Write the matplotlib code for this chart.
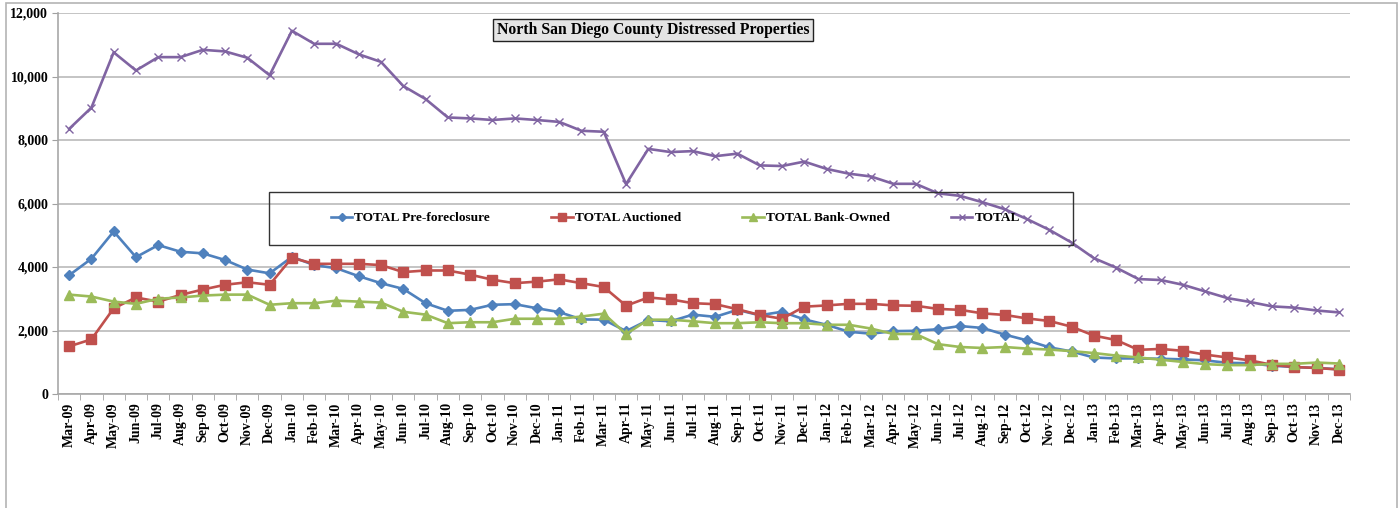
import matplotlib
matplotlib.use("Agg")
import matplotlib.pyplot as plt
from matplotlib.patches import Rectangle
from matplotlib.ticker import FuncFormatter, MultipleLocator
import pandas as pd

plt.rcParams["font.family"] = ["Liberation Serif", "DejaVu Serif"]
plt.rcParams["font.weight"] = "bold"

months = pd.date_range("2009-03-01", "2013-12-01", freq="MS").strftime("%b-%y").tolist()

pre_foreclosure = [
    3740, 4260, 5120, 4310, 4690, 4480, 4430, 4220, 3920, 3800,
    4320, 4060, 3960, 3710, 3490, 3310, 2860, 2620, 2650, 2810,
    2830, 2700, 2580, 2350, 2340, 1980, 2330, 2290, 2500, 2430,
    2650, 2480, 2590, 2350, 2180, 1960, 1900, 1980, 1990, 2040,
    2140, 2080, 1870, 1690, 1470, 1340, 1150, 1120, 1120, 1110,
    1090, 1060, 980, 970, 890, 850, 820, 780,
]
auctioned = [
    1500, 1720, 2700, 3040, 2910, 3120, 3290, 3440, 3520, 3440,
    4290, 4100, 4100, 4100, 4060, 3840, 3890, 3890, 3760, 3600,
    3490, 3540, 3610, 3490, 3370, 2780, 3040, 2980, 2860, 2830,
    2670, 2490, 2370, 2750, 2790, 2840, 2840, 2790, 2780, 2680,
    2650, 2540, 2490, 2380, 2300, 2120, 1840, 1700, 1390, 1420,
    1360, 1240, 1150, 1060, 920, 850, 820, 770,
]
bank_owned = [
    3130, 3070, 2910, 2840, 3000, 3040, 3100, 3130, 3130, 2810,
    2860, 2860, 2940, 2910, 2880, 2590, 2500, 2230, 2260, 2260,
    2370, 2370, 2370, 2440, 2530, 1890, 2340, 2340, 2290, 2230,
    2230, 2260, 2230, 2230, 2180, 2180, 2060, 1890, 1890, 1570,
    1480, 1450, 1480, 1430, 1400, 1350, 1290, 1210, 1150, 1080,
    1010, 940, 910, 910, 950, 950, 990, 960,
]
total = [
    8350, 9020, 10760, 10190, 10610, 10610, 10840, 10790, 10590, 10040,
    11440, 11030, 11030, 10700, 10460, 9700, 9290, 8710, 8680, 8630,
    8680, 8630, 8570, 8290, 8260, 6610, 7720, 7620, 7650, 7490,
    7570, 7200, 7180, 7320, 7090, 6940, 6850, 6620, 6620, 6320,
    6240, 6040, 5820, 5510, 5170, 4770, 4280, 3980, 3620, 3590,
    3440, 3230, 3020, 2900, 2760, 2720, 2630, 2570,
]

W, H = 1400, 508
fig = plt.figure(figsize=(W / 100, H / 100), dpi=100)
ax = fig.add_axes([58 / W, 1 - 394 / H, (1350 - 58) / W, (394 - 13) / H])

# outer chart border
fig.patches.append(Rectangle((6 / W, -0.1), (1397 - 6) / W, 1.1 - 3 / H,
                             transform=fig.transFigure, fill=False,
                             edgecolor="#b4b4b4", lw=1.2))

x = range(len(months))
series = [
    ("TOTAL Pre-foreclosure", pre_foreclosure, "#4F81BD", "D", 5),
    ("TOTAL Auctioned", auctioned, "#C0504D", "s", 7),
    ("TOTAL Bank-Owned", bank_owned, "#9BBB59", "^", 7),
    ("TOTAL", total, "#8064A2", "x", 6),
]
for name, vals, col, mk, ms in series:
    ax.plot(x, vals, color=col, lw=1.9, marker=mk, markersize=ms,
            markeredgecolor=col, markerfacecolor=col, markeredgewidth=1.0,
            label=name)

ax.set_xlim(-0.5, len(months) - 0.5)
ax.set_ylim(0, 12000)
ax.yaxis.set_major_locator(MultipleLocator(2000))
ax.yaxis.set_major_formatter(FuncFormatter(lambda v, p: f"{int(v):,}"))
ax.grid(axis="y", color="#c4c4c4", lw=1.4)
ax.set_axisbelow(True)

ax.set_xticks(list(x))
ax.set_xticklabels(months, rotation=90, fontsize=10, fontweight="bold")
ax.set_xticks([i - 0.5 for i in range(len(months) + 1)], minor=True)
ax.tick_params(axis="x", which="major", length=0, pad=6)
ax.tick_params(axis="x", which="minor", length=4, color="#a0a0a0", direction="out")
ax.tick_params(axis="y", length=4, color="#a0a0a0", labelsize=10, pad=3)
for lab in ax.get_yticklabels():
    lab.set_fontweight("bold")

for s in ["top", "right"]:
    ax.spines[s].set_visible(False)
for s in ["left", "bottom"]:
    ax.spines[s].set_color("#a8a8a8")
    ax.spines[s].set_linewidth(1.2)

# title box
fig.text(653 / W, 1 - 30 / H, "North San Diego County Distressed Properties",
         ha="center", va="center", fontsize=11.3, fontweight="bold",
         bbox=dict(boxstyle="square,pad=0.22", facecolor="#e4e4e4",
                   edgecolor="#222222", lw=1.0))

# legend box (transparent, lines show through)
fig.patches.append(Rectangle((269 / W, 1 - 245 / H), (1073 - 269) / W, 53 / H,
                             transform=fig.transFigure, fill=False,
                             edgecolor="#333333", lw=1.0, zorder=3))
leg = ax.legend(ncol=4, loc="center left", frameon=False,
                bbox_to_anchor=(331 / W, 1 - 218 / H), bbox_transform=fig.transFigure,
                prop={"size": 9.6, "weight": "bold"}, handlelength=1.6,
                handletextpad=0.15, columnspacing=4.6, borderpad=0,
                borderaxespad=0, markerscale=0.8)
leg.set_zorder(5)

fig.savefig("out.png", dpi=100)
